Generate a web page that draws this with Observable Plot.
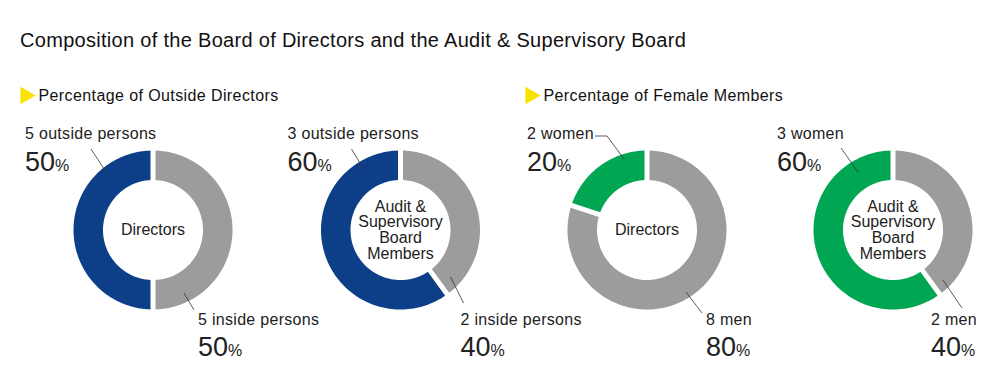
<!DOCTYPE html>
<html>
<head>
<meta charset="utf-8">
<script src="https://cdn.jsdelivr.net/npm/d3@7"></script>
<script src="https://cdn.jsdelivr.net/npm/@observablehq/plot@0.6"></script>
<style>
  body { margin: 0; background: #fff; font-family: "Liberation Sans", Arial, sans-serif; }
  #title { height: 60px; box-sizing: border-box; padding: 29px 0 0 20px; font-size: 20px; line-height: 22px; color: #111; letter-spacing: 0.3px; white-space: nowrap; }
  #chart svg { display: block; }
</style>
</head>
<body>
<div id="title">Composition of the Board of Directors and the Audit &amp; Supervisory Board</div>
<div id="chart"></div>
<script>
// ---- data ----
const sections = ["Percentage of Outside Directors", "Percentage of Female Members"];
const centerLabels = ["Directors", "Audit &\nSupervisory\nBoard\nMembers", "Directors", "Audit &\nSupervisory\nBoard\nMembers"];
const highlightLabels = ["5 outside persons", "3 outside persons", "2 women", "3 women"];
const highlightCounts = [5, 3, 2, 3];
const highlightPct = [50, 60, 20, 60];
const otherLabels = ["5 inside persons", "2 inside persons", "8 men", "2 men"];
const otherCounts = [5, 2, 8, 2];
const otherPct = [50, 40, 80, 40];
const highlightColors = ["#0c3f88", "#0c3f88", "#00a651", "#00a651"];
const otherColor = "#9c9c9d";

// ---- layout (page pixel coordinates) ----
const W = 1000, TOP = 60, H = 379;
const centers = [[152.5, 229.5], [400, 229.5], [646.5, 229.5], [892.5, 229.5]];
const R0 = 50, R1 = 79.5, GAP = 2.5;
const sectionX = [20, 525];
const sectionY = 95;
// label positions relative to donut centers
const topLabelDx = [-128, -113, -120, -116];
const bottomLabelDx = [45, 60, 59, 38];
const topLine = [[[-62, -81], [-45, -55]], [[-49, -81], [-35, -58]], [[-40, -94], [-23, -71]], [[-52, -82], [-35, -58]]];
const topHook = [null, null, [-52, -94], null];
const bottomLine = [[[31, 63], [41, 80]], [[50, 47], [63, 73]], [[39, 62], [55, 83]], [[50, 50], [69, 78]]];

// ---- build ring polygons from values ----
const ring = [];
centers.forEach(([cx, cy], i) => {
  const total = highlightCounts[i] + otherCounts[i];
  const slices = [
    {v: otherCounts[i], color: otherColor},
    {v: highlightCounts[i], color: highlightColors[i]}
  ];
  let a = 0;
  slices.forEach((s, j) => {
    const a0 = a, a1 = a + (s.v / total) * 2 * Math.PI;
    a = a1;
    const id = `${i}-${j}`;
    const n = 120;
    const o0 = a0 + GAP / R1, o1 = a1 - GAP / R1;
    const i0 = a0 + GAP / R0, i1 = a1 - GAP / R0;
    for (let k = 0; k <= n; k++) {
      const t = o0 + (o1 - o0) * k / n;
      ring.push({id, color: s.color, x: cx + R1 * Math.sin(t), y: cy - R1 * Math.cos(t)});
    }
    for (let k = n; k >= 0; k--) {
      const t = i0 + (i1 - i0) * k / n;
      ring.push({id, color: s.color, x: cx + R0 * Math.sin(t), y: cy - R0 * Math.cos(t)});
    }
  });
});

const centerText = centers.map(([cx, cy], i) => ({x: cx, y: cy, t: centerLabels[i]}));
const topText = centers.map(([cx, cy], i) => ({x: cx + topLabelDx[i], y: 138, t: highlightLabels[i]}));
const topPct = centers.map(([cx, cy], i) => ({x: cx + topLabelDx[i], y: 170, t: highlightPct[i] + "%"}));
const botText = centers.map(([cx, cy], i) => ({x: cx + bottomLabelDx[i], y: 324, t: otherLabels[i]}));
const botPct = centers.map(([cx, cy], i) => ({x: cx + bottomLabelDx[i], y: 355, t: otherPct[i] + "%"}));
const leaders = [];
centers.forEach(([cx, cy], i) => {
  const segs = [];
  if (topHook[i]) segs.push([topHook[i], topLine[i][0]]);
  segs.push(topLine[i], bottomLine[i]);
  segs.forEach((s) => {
    leaders.push({x1: cx + s[0][0], y1: cy + s[0][1], x2: cx + s[1][0], y2: cy + s[1][1]});
  });
});
const sectionData = sections.map((t, i) => ({x: sectionX[i], y: sectionY, t}));

const plot = Plot.plot({
  width: W,
  height: H - TOP,
  margin: 0,
  x: {type: "linear", domain: [0, W], range: [0, W], axis: null},
  y: {type: "linear", domain: [TOP, H], range: [0, H - TOP], axis: null},
  style: {fontFamily: "'Liberation Sans', Arial, sans-serif", color: "#222", background: "#fff"},
  marks: [
    Plot.line(ring, {x: "x", y: "y", z: "id", fill: "color", stroke: null, curve: "linear"}),
    Plot.link(leaders, {x1: "x1", y1: "y1", x2: "x2", y2: "y2", stroke: "#333", strokeWidth: 0.8}),
    Plot.dot(sectionData, {x: d => d.x + 5, y: "y", symbol: "triangle", rotate: 90, r: 6.5, fill: "#f7e300", stroke: null}),
    Plot.text(sectionData, {x: d => d.x + 18, y: "y", text: "t", textAnchor: "start", fontSize: 16, fill: "#111", lineAnchor: "middle", className: "sec"}),
    Plot.text(centerText, {x: "x", y: "y", text: "t", fontSize: 16, lineHeight: 0.98, fill: "#222", textAnchor: "middle", lineAnchor: "middle"}),
    Plot.text(topText, {x: "x", y: "y", text: "t", fontSize: 16, fill: "#222", textAnchor: "start", lineAnchor: "bottom", className: "lab"}),
    Plot.text(botText, {x: "x", y: "y", text: "t", fontSize: 16, fill: "#222", textAnchor: "start", lineAnchor: "bottom", className: "lab"}),
    Plot.text(topPct, {x: "x", y: "y", text: "t", fontSize: 27, fill: "#222", textAnchor: "start", lineAnchor: "bottom"}),
    Plot.text(botPct, {x: "x", y: "y", text: "t", fontSize: 27, fill: "#222", textAnchor: "start", lineAnchor: "bottom"})
  ]
});

// smaller percent sign
d3.select(plot).selectAll("text").each(function() {
  const s = this.textContent;
  if (/^\d+%$/.test(s)) {
    const el = d3.select(this);
    el.text(s.slice(0, -1));
    el.append("tspan").attr("font-size", "16px").style("font-size", "16px").text("%");
  }
});
d3.select(plot).selectAll(".lab text").attr("letter-spacing", "0.3");
d3.select(plot).selectAll(".sec text").attr("letter-spacing", "0.4");
document.getElementById("chart").appendChild(plot);
</script>
</body>
</html>
